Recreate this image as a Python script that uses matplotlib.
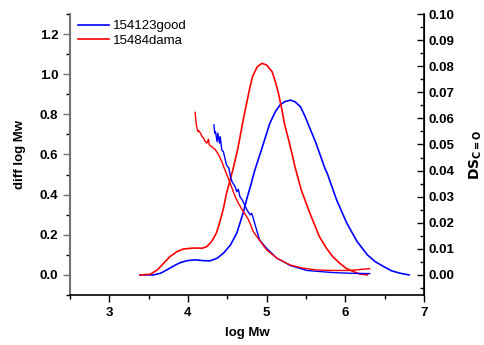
import numpy as np
import matplotlib.pyplot as plt
from matplotlib.ticker import MultipleLocator

plt.rcParams['font.family'] = ['Liberation Sans', 'DejaVu Sans']

# GPC curves (left axis)
red_x = [3.39, 3.52, 3.61, 3.69, 3.77, 3.86, 3.94, 4.07, 4.18, 4.24, 4.30, 4.36, 4.40, 4.45, 4.49,
         4.53, 4.57, 4.63, 4.71, 4.78, 4.82, 4.88, 4.94, 5.00, 5.07, 5.11, 5.15, 5.19, 5.23, 5.28,
         5.32, 5.36, 5.44, 5.55, 5.67, 5.76, 5.84, 5.93, 6.01, 6.10, 6.18, 6.28]
red_y = [0.0, 0.003, 0.025, 0.058, 0.091, 0.116, 0.129, 0.134, 0.133, 0.141, 0.166, 0.208, 0.257, 0.33, 0.407,
         0.465, 0.523, 0.622, 0.788, 0.921, 0.988, 1.037, 1.054, 1.046, 1.012, 0.963, 0.905, 0.830, 0.747, 0.672,
         0.606, 0.539, 0.423, 0.307, 0.191, 0.133, 0.091, 0.058, 0.033, 0.017, 0.005, 0.0]

blue_x = [3.39, 3.56, 3.65, 3.73, 3.82, 3.90, 3.99, 4.09, 4.20, 4.28, 4.37, 4.45, 4.54, 4.62, 4.66,
          4.71, 4.75, 4.80, 4.85, 4.92, 4.98, 5.04, 5.11, 5.17, 5.23, 5.30, 5.36, 5.43, 5.49, 5.55,
          5.62, 5.68, 5.74, 5.77, 5.89, 6.02, 6.15, 6.28, 6.38, 6.49, 6.59, 6.70, 6.81]
blue_y = [0.0, 0.0, 0.008, 0.025, 0.045, 0.061, 0.071, 0.075, 0.071, 0.070, 0.083, 0.108, 0.149, 0.208, 0.257,
          0.32, 0.382, 0.45, 0.523, 0.606, 0.681, 0.755, 0.813, 0.847, 0.863, 0.871, 0.863, 0.838, 0.788, 0.730,
          0.664, 0.598, 0.531, 0.506, 0.373, 0.257, 0.166, 0.100, 0.066, 0.041, 0.020, 0.008, 0.0]

# DS C=O curves (right axis)
ds_red_x = [4.09, 4.10, 4.11, 4.12, 4.13, 4.135, 4.16, 4.17, 4.18, 4.20, 4.22, 4.24, 4.26, 4.27, 4.30,
            4.35, 4.39, 4.43, 4.47, 4.52, 4.56, 4.60, 4.64, 4.69, 4.73, 4.77, 4.83, 4.92, 5.00, 5.13,
            5.30, 5.46, 5.63, 5.84, 6.06, 6.31]
ds_red_y = [0.0623, 0.0594, 0.0568, 0.0556, 0.0549, 0.0553, 0.0543, 0.0536, 0.0530, 0.0524, 0.0511, 0.0505,
            0.0520, 0.0498, 0.0492, 0.0479, 0.0460, 0.0434, 0.0402, 0.0364, 0.0332, 0.0300, 0.0275, 0.0249,
            0.0230, 0.0211, 0.0166, 0.0128, 0.0096, 0.0064, 0.0038, 0.0026, 0.0019, 0.0017, 0.0017, 0.0024]

ds_blue_x = [4.33, 4.34, 4.35, 4.37, 4.38, 4.40, 4.41, 4.43, 4.45, 4.47, 4.49, 4.52, 4.54, 4.56, 4.60,
             4.62, 4.64, 4.66, 4.69, 4.71, 4.75, 4.79, 4.81, 4.83, 4.86, 4.91, 5.00, 5.13, 5.30, 5.51,
             5.84, 6.09, 6.31]
ds_blue_y = [0.0575, 0.0543, 0.0549, 0.0511, 0.0543, 0.0505, 0.0530, 0.0479, 0.0472, 0.0447, 0.0421, 0.0409,
             0.0377, 0.0357, 0.0338, 0.0319, 0.0328, 0.0300, 0.0287, 0.0275, 0.0249, 0.0230, 0.0236, 0.0217,
             0.0185, 0.0134, 0.0102, 0.0064, 0.0036, 0.0017, 0.0009, 0.0006, 0.0005]

fig = plt.figure(figsize=(4.84, 3.45), dpi=100)
ax = fig.add_axes([0.1446, 0.145, 0.7314, 0.8144])
ax2 = ax.twinx()

ax.plot(blue_x, blue_y, c='#0000ff', lw=1.2, label='154123good')
ax.plot(red_x, red_y, c='#ff0000', lw=1.2, label='15484dama')
ax2.plot(ds_blue_x, ds_blue_y, c='#0000ff', lw=1.0)
ax2.plot(ds_red_x, ds_red_y, c='#ff0000', lw=1.0)

ax.set_xlim(2.5, 7)
ax.set_ylim(-0.1, 1.3)
ax2.set_ylim(-0.1 / 13, 0.1)

ax.xaxis.set_major_locator(MultipleLocator(1))
ax.xaxis.set_minor_locator(MultipleLocator(0.5))
ax.yaxis.set_minor_locator(MultipleLocator(0.1))
ax2.yaxis.set_major_locator(MultipleLocator(0.01))
ax2.yaxis.set_minor_locator(MultipleLocator(0.005))
ax.set_yticks(np.arange(0, 1.21, 0.2))

for a in (ax, ax2):
    a.spines['top'].set_visible(False)
ax.spines['left'].set_color('#707070')
ax.spines['left'].set_linewidth(1.5)
ax.spines['bottom'].set_linewidth(1.2)
ax2.spines['right'].set_linewidth(1.2)
ax2.spines['left'].set_visible(False)
ax2.spines['bottom'].set_visible(False)

ax.tick_params(axis='both', which='major', direction='out', length=5, width=1, labelsize=9.5)
ax.tick_params(axis='both', which='minor', direction='out', length=3, width=1)
ax2.tick_params(axis='y', which='major', direction='in', length=5, width=1, labelsize=9.5)
ax2.tick_params(axis='y', which='minor', direction='in', length=3, width=1)
ax.tick_params(axis='y', colors='#707070', labelcolor='black')

ax.set_yticklabels(['%.1f' % v for v in np.arange(0, 1.21, 0.2)])
ax2.yaxis.set_major_formatter(plt.FormatStrFormatter('%.2f'))
for lab in ax.get_xticklabels() + ax.get_yticklabels() + ax2.get_yticklabels():
    lab.set_fontweight('bold')

ax.set_xlabel('log Mw', fontsize=9.5, fontweight='bold', labelpad=6)
ax.set_ylabel('diff log Mw', fontsize=9.5, fontweight='bold', labelpad=10)
ax2.set_ylabel(r'$\mathbf{DS_{C=O}}$', fontsize=10, labelpad=9)

ax.legend(loc='upper left', frameon=False, fontsize=9.5, handlelength=2.4,
          handletextpad=0.3, bbox_to_anchor=(-0.012, 1.02), labelspacing=0.15)

plt.savefig('out.png', dpi=100)
